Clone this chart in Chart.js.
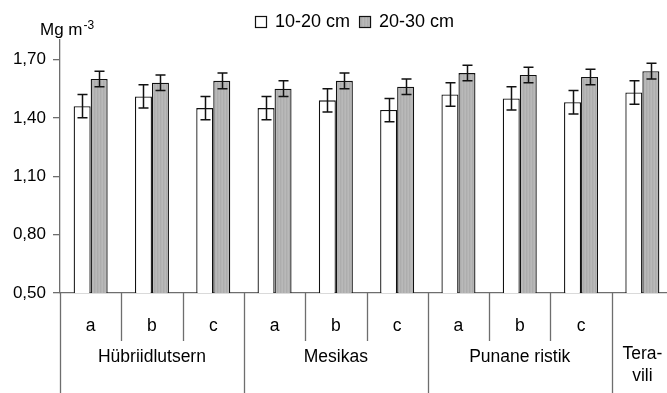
<!DOCTYPE html>
<html>
<head>
<meta charset="utf-8">
<script src="https://cdn.jsdelivr.net/npm/chart.js@4.4.0/dist/chart.umd.min.js"></script>
<style>
  html, body { margin: 0; padding: 0; background: #fff; overflow: hidden; }
  #wrap { width: 674px; height: 393px; }
</style>
</head>
<body>
<div id="wrap"><canvas id="c" width="674" height="393"></canvas></div>
<script>
// Soil bulk density (Mg m-3) by crop and variant, two depth layers
const groups = ['Hübriidlutsern', 'Mesikas', 'Punane ristik', 'Tera-\nvili'];
const groupSpans = [3, 3, 3, 1];
const subLabels = ['a', 'b', 'c', 'a', 'b', 'c', 'a', 'b', 'c', ''];
const seriesNames = ['10-20 cm', '20-30 cm'];
const depth10to20 = [1.46, 1.51, 1.45, 1.45, 1.49, 1.44, 1.52, 1.50, 1.48, 1.53];
const depth20to30 = [1.60, 1.58, 1.59, 1.55, 1.59, 1.56, 1.63, 1.62, 1.61, 1.64];
const err10to20 = [0.06, 0.06, 0.06, 0.06, 0.06, 0.06, 0.06, 0.06, 0.06, 0.06];
const err20to30 = [0.04, 0.04, 0.04, 0.04, 0.04, 0.04, 0.04, 0.04, 0.04, 0.04];
const yTicks = [0.5, 0.8, 1.1, 1.4, 1.7];
const yMin = 0.5, yMax = 1.8;

const FONT = "'Liberation Sans', Arial, Helvetica, sans-serif";
const AXIS = '#6e6e6e';
const INK = '#111';

// fine vertical hatch for the grey series
function greyFill() {
  const p = document.createElement('canvas');
  p.width = 3; p.height = 1;
  const g = p.getContext('2d');
  ['#b9b9b9', '#adadad', '#b4b4b4'].forEach((c, i) => { g.fillStyle = c; g.fillRect(i, 0, 1, 1); });
  return document.getElementById('c').getContext('2d').createPattern(p, 'repeat');
}
const greyPattern = greyFill();
const errors = [err10to20, err20to30];

const errorBars = {
  id: 'errorBars',
  afterDatasetsDraw(chart) {
    const ctx = chart.ctx, y = chart.scales.y;
    ctx.save();
    ctx.strokeStyle = INK;
    ctx.lineWidth = 1.5;
    chart.data.datasets.forEach((ds, di) => {
      chart.getDatasetMeta(di).data.forEach((bar, i) => {
        const v = ds.data[i], e = errors[di][i];
        const top = y.getPixelForValue(v + e), bot = y.getPixelForValue(v - e);
        const x = Math.round(bar.x) + 0.5, cap = 5;
        ctx.beginPath();
        ctx.moveTo(x, top); ctx.lineTo(x, bot);
        ctx.moveTo(x - cap, top); ctx.lineTo(x + cap, top);
        ctx.moveTo(x - cap, bot); ctx.lineTo(x + cap, bot);
        ctx.stroke();
      });
    });
    ctx.restore();
  }
};

// two-level category axis: variant letters and crop names with separators
const groupedAxis = {
  id: 'groupedAxis',
  afterDraw(chart) {
    const ctx = chart.ctx, xs = chart.scales.x, area = chart.chartArea;
    const n = subLabels.length;
    const edge = i => i === 0 ? xs.left : i === n ? xs.right
      : (xs.getPixelForValue(i - 1) + xs.getPixelForValue(i)) / 2;
    const groupEdges = [0];
    groupSpans.forEach(s => groupEdges.push(groupEdges[groupEdges.length - 1] + s));
    ctx.save();
    ctx.strokeStyle = AXIS;
    ctx.lineWidth = 1.3;
    for (let i = 0; i <= n; i++) {
      const x = Math.round(edge(i)) + 0.5;
      const long = groupEdges.includes(i);
      ctx.beginPath();
      ctx.moveTo(x, area.bottom);
      ctx.lineTo(x, long ? chart.height : area.bottom + 48);
      ctx.stroke();
    }
    ctx.fillStyle = '#000';
    ctx.textAlign = 'center';
    ctx.textBaseline = 'middle';
    ctx.font = '17.5px ' + FONT;
    subLabels.forEach((t, i) => { if (t) ctx.fillText(t, xs.getPixelForValue(i), area.bottom + 33); });
    groups.forEach((g, gi) => {
      const cx = (edge(groupEdges[gi]) + edge(groupEdges[gi + 1])) / 2;
      const lines = g.split('\n');
      if (lines.length === 1) ctx.fillText(g, cx, area.bottom + 64);
      else lines.forEach((ln, li) => ctx.fillText(ln, cx, area.bottom + 61 + li * 22));
    });
    ctx.restore();
  }
};

// legend row and the axis unit label
const headings = {
  id: 'headings',
  afterDraw(chart) {
    const ctx = chart.ctx;
    ctx.save();
    ctx.font = '18px ' + FONT;
    ctx.textBaseline = 'middle';
    ctx.fillStyle = '#000';
    let x = 255;
    const fills = ['#ffffff', greyPattern];
    seriesNames.forEach((name, i) => {
      ctx.fillStyle = fills[i];
      ctx.fillRect(x, 16, 11, 11);
      ctx.strokeStyle = INK;
      ctx.lineWidth = 1.2;
      ctx.strokeRect(x + 0.5, 16.5, 11, 11);
      ctx.fillStyle = '#000';
      ctx.fillText(name, x + 20, 22);
      x += 20 + ctx.measureText(name).width + 9;
    });
    ctx.textBaseline = 'alphabetic';
    ctx.font = '17px ' + FONT;
    ctx.fillText('Mg m', 40, 35);
    const w = ctx.measureText('Mg m').width;
    ctx.font = '12px ' + FONT;
    ctx.fillText('-3', 40 + w + 1, 29);
    ctx.restore();
  }
};

new Chart(document.getElementById('c'), {
  type: 'bar',
  data: {
    labels: subLabels,
    datasets: [
      { label: seriesNames[0], data: depth10to20, backgroundColor: '#ffffff',
        borderColor: INK, borderWidth: 1.3, categoryPercentage: 0.555, barPercentage: 1 },
      { label: seriesNames[1], data: depth20to30, backgroundColor: greyPattern,
        borderColor: INK, borderWidth: 1.3, categoryPercentage: 0.555, barPercentage: 1 }
    ]
  },
  options: {
    responsive: false,
    animation: false,
    devicePixelRatio: 1,
    layout: { padding: { top: 40, right: 1, left: 0, bottom: 0 } },
    plugins: { legend: { display: false }, tooltip: { enabled: false } },
    scales: {
      x: {
        type: 'category',
        offset: true,
        grid: { display: false },
        ticks: { display: false },
        border: { color: AXIS, width: 1.3 },
        afterFit(s) { s.height = 100; }
      },
      y: {
        min: yMin,
        max: yMax,
        afterBuildTicks(s) { s.ticks = yTicks.map(v => ({ value: v })); },
        ticks: {
          color: '#000',
          font: { family: FONT, size: 17 },
          padding: 7,
          callback: v => Number(v).toFixed(2).replace('.', ',')
        },
        grid: { drawOnChartArea: false, tickLength: 7, color: AXIS, lineWidth: 1.3 },
        border: { color: AXIS, width: 1.3 },
        afterFit(s) { s.width = 60; }
      }
    }
  },
  plugins: [errorBars, groupedAxis, headings]
});
</script>
</body>
</html>
